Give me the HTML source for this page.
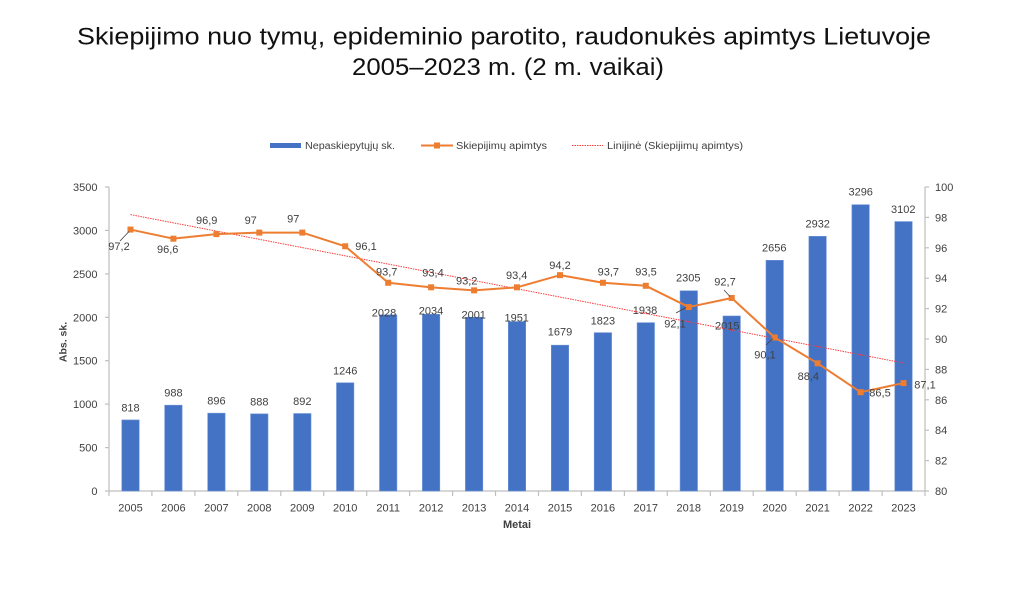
<!DOCTYPE html>
<html>
<head>
<meta charset="utf-8">
<style>
html,body{margin:0;padding:0;background:#fff;}
svg{display:block;}
text{font-family:"Liberation Sans",Arial,sans-serif;}
</style>
</head>
<body>
<svg width="1024" height="589" viewBox="0 0 1024 589" xmlns="http://www.w3.org/2000/svg">
<rect width="1024" height="589" fill="#fff"/>
<!-- Title -->
<text x="77" y="44.5" font-size="24" fill="#111" textLength="854" lengthAdjust="spacingAndGlyphs">Skiepijimo nuo tymų, epideminio parotito, raudonukės  apimtys Lietuvoje</text>
<text x="352" y="75" font-size="24" fill="#111" textLength="312" lengthAdjust="spacingAndGlyphs">2005–2023 m. (2 m. vaikai)</text>

<!-- Legend -->
<rect x="270" y="143" width="31" height="5" fill="#4472C4"/>
<text x="305" y="149" font-size="10" fill="#404040" textLength="90" lengthAdjust="spacingAndGlyphs">Nepaskiepytųjų sk.</text>
<line x1="421" y1="145.5" x2="453" y2="145.5" stroke="#ED7D31" stroke-width="2"/>
<rect x="434" y="142.5" width="6" height="6" fill="#ED7D31"/>
<text x="456" y="149" font-size="10" fill="#404040" textLength="91" lengthAdjust="spacingAndGlyphs">Skiepijimų apimtys</text>
<line x1="572" y1="145.5" x2="603" y2="145.5" stroke="#FF3B3B" stroke-width="1" stroke-dasharray="1.5,1"/>
<text x="607" y="149" font-size="10" fill="#404040" textLength="136" lengthAdjust="spacingAndGlyphs">Linijinė (Skiepijimų apimtys)</text>

<!-- Axes -->
<g stroke="#BFBFBF" stroke-width="1.2" fill="none">
<line x1="109" y1="187" x2="109" y2="491"/>
<line x1="925" y1="187" x2="925" y2="491"/>
<line x1="109" y1="491" x2="925" y2="491"/>
<!-- left ticks -->
<line x1="105" y1="187" x2="109" y2="187"/>
<line x1="105" y1="230.4" x2="109" y2="230.4"/>
<line x1="105" y1="273.9" x2="109" y2="273.9"/>
<line x1="105" y1="317.3" x2="109" y2="317.3"/>
<line x1="105" y1="360.7" x2="109" y2="360.7"/>
<line x1="105" y1="404.1" x2="109" y2="404.1"/>
<line x1="105" y1="447.6" x2="109" y2="447.6"/>
<line x1="105" y1="491" x2="109" y2="491"/>
<!-- right ticks -->
<line x1="925" y1="187" x2="929" y2="187"/>
<line x1="925" y1="217.4" x2="929" y2="217.4"/>
<line x1="925" y1="247.8" x2="929" y2="247.8"/>
<line x1="925" y1="278.2" x2="929" y2="278.2"/>
<line x1="925" y1="308.6" x2="929" y2="308.6"/>
<line x1="925" y1="339" x2="929" y2="339"/>
<line x1="925" y1="369.4" x2="929" y2="369.4"/>
<line x1="925" y1="399.8" x2="929" y2="399.8"/>
<line x1="925" y1="430.2" x2="929" y2="430.2"/>
<line x1="925" y1="460.6" x2="929" y2="460.6"/>
<line x1="925" y1="491" x2="929" y2="491"/>
<!-- category ticks -->
<line x1="109" y1="491" x2="109" y2="496"/>
<line x1="151.9" y1="491" x2="151.9" y2="496"/>
<line x1="194.9" y1="491" x2="194.9" y2="496"/>
<line x1="237.8" y1="491" x2="237.8" y2="496"/>
<line x1="280.8" y1="491" x2="280.8" y2="496"/>
<line x1="323.7" y1="491" x2="323.7" y2="496"/>
<line x1="366.7" y1="491" x2="366.7" y2="496"/>
<line x1="409.6" y1="491" x2="409.6" y2="496"/>
<line x1="452.6" y1="491" x2="452.6" y2="496"/>
<line x1="495.5" y1="491" x2="495.5" y2="496"/>
<line x1="538.5" y1="491" x2="538.5" y2="496"/>
<line x1="581.4" y1="491" x2="581.4" y2="496"/>
<line x1="624.4" y1="491" x2="624.4" y2="496"/>
<line x1="667.3" y1="491" x2="667.3" y2="496"/>
<line x1="710.3" y1="491" x2="710.3" y2="496"/>
<line x1="753.2" y1="491" x2="753.2" y2="496"/>
<line x1="796.2" y1="491" x2="796.2" y2="496"/>
<line x1="839.1" y1="491" x2="839.1" y2="496"/>
<line x1="882.1" y1="491" x2="882.1" y2="496"/>
<line x1="925" y1="491" x2="925" y2="496"/>
</g>

<!-- Left tick labels -->
<g font-size="11" fill="#404040" text-anchor="end">
<text x="97.5" y="191">3500</text>
<text x="97.5" y="234.4">3000</text>
<text x="97.5" y="277.9">2500</text>
<text x="97.5" y="321.3">2000</text>
<text x="97.5" y="364.7">1500</text>
<text x="97.5" y="408.1">1000</text>
<text x="97.5" y="451.6">500</text>
<text x="97.5" y="495">0</text>
</g>
<!-- Right tick labels -->
<g font-size="11" fill="#404040">
<text x="935" y="191">100</text>
<text x="935" y="221.4">98</text>
<text x="935" y="251.8">96</text>
<text x="935" y="282.2">94</text>
<text x="935" y="312.6">92</text>
<text x="935" y="343">90</text>
<text x="935" y="373.4">88</text>
<text x="935" y="403.8">86</text>
<text x="935" y="434.2">84</text>
<text x="935" y="464.6">82</text>
<text x="935" y="495">80</text>
</g>
<!-- X labels -->
<g font-size="11" fill="#404040" text-anchor="middle">
<text x="130.5" y="511.5">2005</text>
<text x="173.4" y="511.5">2006</text>
<text x="216.4" y="511.5">2007</text>
<text x="259.3" y="511.5">2008</text>
<text x="302.3" y="511.5">2009</text>
<text x="345.2" y="511.5">2010</text>
<text x="388.2" y="511.5">2011</text>
<text x="431.1" y="511.5">2012</text>
<text x="474.1" y="511.5">2013</text>
<text x="517" y="511.5">2014</text>
<text x="560" y="511.5">2015</text>
<text x="602.9" y="511.5">2016</text>
<text x="645.8" y="511.5">2017</text>
<text x="688.8" y="511.5">2018</text>
<text x="731.7" y="511.5">2019</text>
<text x="774.7" y="511.5">2020</text>
<text x="817.6" y="511.5">2021</text>
<text x="860.6" y="511.5">2022</text>
<text x="903.5" y="511.5">2023</text>
</g>
<text x="517" y="528" font-size="11" font-weight="bold" fill="#404040" text-anchor="middle">Metai</text>
<text transform="translate(66.5,342) rotate(-90)" font-size="10.5" font-weight="bold" fill="#404040" text-anchor="middle">Abs. sk.</text>

<!-- Bars -->
<g fill="#4472C4" stroke="#6D93D6" stroke-width="0.6">
<rect x="121.8" y="419.95" width="17.4" height="71.05"/>
<rect x="164.7" y="405.19" width="17.4" height="85.81"/>
<rect x="207.7" y="413.18" width="17.4" height="77.82"/>
<rect x="250.6" y="413.87" width="17.4" height="77.13"/>
<rect x="293.6" y="413.52" width="17.4" height="77.48"/>
<rect x="336.5" y="382.78" width="17.4" height="108.22"/>
<rect x="379.5" y="314.85" width="17.4" height="176.15"/>
<rect x="422.4" y="314.33" width="17.4" height="176.67"/>
<rect x="465.4" y="317.2" width="17.4" height="173.8"/>
<rect x="508.3" y="321.54" width="17.4" height="169.46"/>
<rect x="551.3" y="345.17" width="17.4" height="145.83"/>
<rect x="594.2" y="332.66" width="17.4" height="158.34"/>
<rect x="637.1" y="322.67" width="17.4" height="168.33"/>
<rect x="680.1" y="290.79" width="17.4" height="200.21"/>
<rect x="723" y="315.98" width="17.4" height="175.02"/>
<rect x="766" y="260.31" width="17.4" height="230.69"/>
<rect x="808.9" y="236.33" width="17.4" height="254.67"/>
<rect x="851.9" y="204.72" width="17.4" height="286.28"/>
<rect x="894.8" y="221.57" width="17.4" height="269.43"/>
</g>

<!-- Bar labels -->
<g font-size="11" fill="#404040" text-anchor="middle">
<text x="130.5" y="411.7">818</text>
<text x="173.4" y="396.7">988</text>
<text x="216.4" y="404.7">896</text>
<text x="259.3" y="405.7">888</text>
<text x="302.3" y="405">892</text>
<text x="345.2" y="374.5">1246</text>
<text x="384" y="316.7">2028</text>
<text x="431" y="314.7">2034</text>
<text x="473.7" y="318.3">2001</text>
<text x="516.7" y="321.7">1951</text>
<text x="560" y="335.7">1679</text>
<text x="602.9" y="324.7">1823</text>
<text x="645" y="314">1938</text>
<text x="688.3" y="281.3">2305</text>
<text x="727.3" y="329.7">2015</text>
<text x="774.3" y="251.7">2656</text>
<text x="817.7" y="227.3">2932</text>
<text x="860.7" y="195.7">3296</text>
<text x="903.3" y="213">3102</text>
</g>

<!-- Trend line -->
<line x1="130.5" y1="214.6" x2="903.5" y2="363" stroke="#FF3B3B" stroke-width="1" stroke-dasharray="1.5,1"/>

<!-- Line series -->
<polyline fill="none" stroke="#ED7D31" stroke-width="2" stroke-linejoin="round"
points="130.5,229.56 173.4,238.68 216.4,234.12 259.3,232.6 302.3,232.6 345.2,246.28 388.2,282.76 431.1,287.32 474.1,290.36 517,287.32 560,275.16 602.9,282.76 645.8,285.8 688.8,307.08 731.7,297.96 774.7,337.48 817.6,363.32 860.6,392.2 903.5,383.08"/>
<g fill="#ED7D31">
<rect x="127.5" y="226.56" width="6" height="6"/>
<rect x="170.4" y="235.68" width="6" height="6"/>
<rect x="213.4" y="231.12" width="6" height="6"/>
<rect x="256.3" y="229.6" width="6" height="6"/>
<rect x="299.3" y="229.6" width="6" height="6"/>
<rect x="342.2" y="243.28" width="6" height="6"/>
<rect x="385.2" y="279.76" width="6" height="6"/>
<rect x="428.1" y="284.32" width="6" height="6"/>
<rect x="471.1" y="287.36" width="6" height="6"/>
<rect x="514" y="284.32" width="6" height="6"/>
<rect x="557" y="272.16" width="6" height="6"/>
<rect x="599.9" y="279.76" width="6" height="6"/>
<rect x="642.8" y="282.8" width="6" height="6"/>
<rect x="685.8" y="304.08" width="6" height="6"/>
<rect x="728.7" y="294.96" width="6" height="6"/>
<rect x="771.7" y="334.48" width="6" height="6"/>
<rect x="814.6" y="360.32" width="6" height="6"/>
<rect x="857.6" y="389.2" width="6" height="6"/>
<rect x="900.5" y="380.08" width="6" height="6"/>
</g>

<!-- Leader lines -->
<g stroke="#404040" stroke-width="0.8">
<line x1="120" y1="241" x2="129" y2="231.5"/>
<line x1="676" y1="313" x2="686" y2="307.5"/>
<line x1="724" y1="290" x2="730" y2="296.5"/>
<line x1="766" y1="345" x2="773" y2="338.5"/>
</g>

<!-- Line labels -->
<g font-size="11" fill="#404040" text-anchor="middle">
<text x="119" y="250">97,2</text>
<text x="167.7" y="253">96,6</text>
<text x="206.7" y="224">96,9</text>
<text x="250.7" y="224">97</text>
<text x="293.3" y="222.3">97</text>
<text x="366" y="250">96,1</text>
<text x="386.7" y="275.7">93,7</text>
<text x="433" y="276.3">93,4</text>
<text x="466.7" y="284.7">93,2</text>
<text x="516.7" y="279">93,4</text>
<text x="560" y="269">94,2</text>
<text x="608.3" y="275.7">93,7</text>
<text x="646" y="275.7">93,5</text>
<text x="675" y="327.3">92,1</text>
<text x="725" y="285.7">92,7</text>
<text x="765" y="358.3">90,1</text>
<text x="808.3" y="380">88,4</text>
<text x="880" y="396.7">86,5</text>
<text x="925" y="388.3">87,1</text>
</g>
</svg>
</body>
</html>
